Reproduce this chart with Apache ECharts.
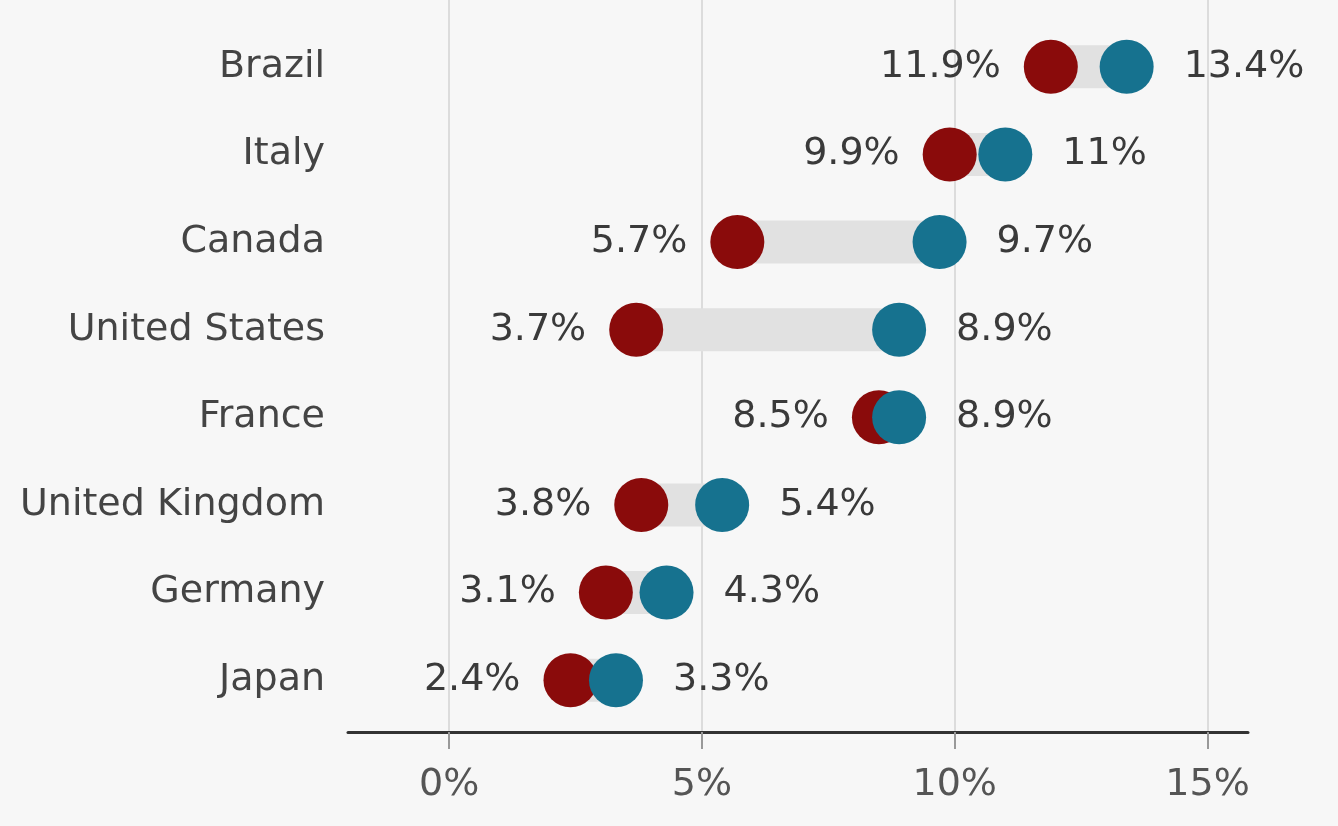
<!DOCTYPE html>
<html>
<head>
<meta charset="utf-8">
<script src="https://cdn.jsdelivr.net/npm/echarts@6/dist/echarts.min.js"></script>
<style>
html,body{margin:0;padding:0;background:#f7f7f7;}
#chart{width:1338px;height:826px;}
</style>
</head>
<body>
<div id="chart"></div>
<script>
const categories = ['Brazil', 'Italy', 'Canada', 'United States', 'France', 'United Kingdom', 'Germany', 'Japan'];
const redValues = [11.9, 9.9, 5.7, 3.7, 8.5, 3.8, 3.1, 2.4];
const blueValues = [13.4, 11, 9.7, 8.9, 8.9, 5.4, 4.3, 3.3];
const xTickMin = 0;
const xTickMax = 15;
const xTickStep = 5;

const lowValues = redValues.map((r, i) => Math.min(r, blueValues[i]));
const gapValues = redValues.map((r, i) => +(Math.abs(blueValues[i] - r)).toFixed(2));

const FONT = 'DejaVu Sans';
const RED = '#8a0b0b';
const BLUE = '#16728f';
const W = 1338;
const X_MIN = -2, X_MAX = 15.8;
const GRID_L = 348, GRID_R = 90;
const pxPerUnit = (W - GRID_L - GRID_R) / (X_MAX - X_MIN);
const tickGridL = GRID_L + (xTickMin - X_MIN) * pxPerUnit;
const tickGridR = GRID_R + (X_MAX - xTickMax) * pxPerUnit;

const chart = echarts.init(document.getElementById('chart'), null, {renderer: 'canvas'});
chart.setOption({
  backgroundColor: '#f7f7f7',
  animation: false,
  grid: [
    {left: GRID_L, right: GRID_R, top: 23, bottom: 102},
    {left: GRID_L, right: GRID_R, top: 0, bottom: 94},
    {left: tickGridL, right: tickGridR, top: 0, bottom: 94}
  ],
  xAxis: [
    {gridIndex: 0, type: 'value', min: X_MIN, max: X_MAX, show: false},
    {
      gridIndex: 1, type: 'value', min: X_MIN, max: X_MAX,
      axisLine: {show: true, lineStyle: {color: '#333', width: 3}},
      axisTick: {show: false}, axisLabel: {show: false}, splitLine: {show: false}
    },
    {
      gridIndex: 2, type: 'value', min: xTickMin, max: xTickMax, interval: xTickStep,
      axisLine: {show: false},
      axisTick: {show: true, length: 17, lineStyle: {color: '#999', width: 2}},
      axisLabel: {formatter: v => v + '%', color: '#555', fontFamily: FONT, fontSize: 38, margin: 34},
      splitLine: {show: true, lineStyle: {color: '#dcdcdc', width: 2}}
    }
  ],
  yAxis: [
    {
      gridIndex: 0, type: 'category', data: categories, inverse: true,
      axisLine: {show: false}, axisTick: {show: false},
      axisLabel: {color: '#444', fontFamily: FONT, fontSize: 38, margin: 23}
    },
    {gridIndex: 1, type: 'value', min: 0, max: 1, show: false},
    {gridIndex: 2, type: 'value', min: 0, max: 1, show: false}
  ],
  series: [
    {
      type: 'bar', xAxisIndex: 0, yAxisIndex: 0, stack: 'g', data: lowValues,
      itemStyle: {color: 'rgba(0,0,0,0)'}, barWidth: 43, silent: true, z: 2
    },
    {
      type: 'bar', xAxisIndex: 0, yAxisIndex: 0, stack: 'g', data: gapValues,
      itemStyle: {color: '#e1e1e1'}, barWidth: 43, silent: true, z: 2
    },
    {
      type: 'scatter', xAxisIndex: 0, yAxisIndex: 0, data: redValues,
      symbolSize: 54, itemStyle: {color: RED, opacity: 1}, z: 3,
      label: {show: true, position: 'left', distance: 23, formatter: p => p.value + '%', color: '#3a3a3a', fontFamily: FONT, fontSize: 38}
    },
    {
      type: 'scatter', xAxisIndex: 0, yAxisIndex: 0, data: blueValues,
      symbolSize: 54, itemStyle: {color: BLUE, opacity: 1}, z: 4,
      label: {show: true, position: 'right', distance: 30, formatter: p => p.value + '%', color: '#3a3a3a', fontFamily: FONT, fontSize: 38}
    }
  ]
});
</script>
</body>
</html>
